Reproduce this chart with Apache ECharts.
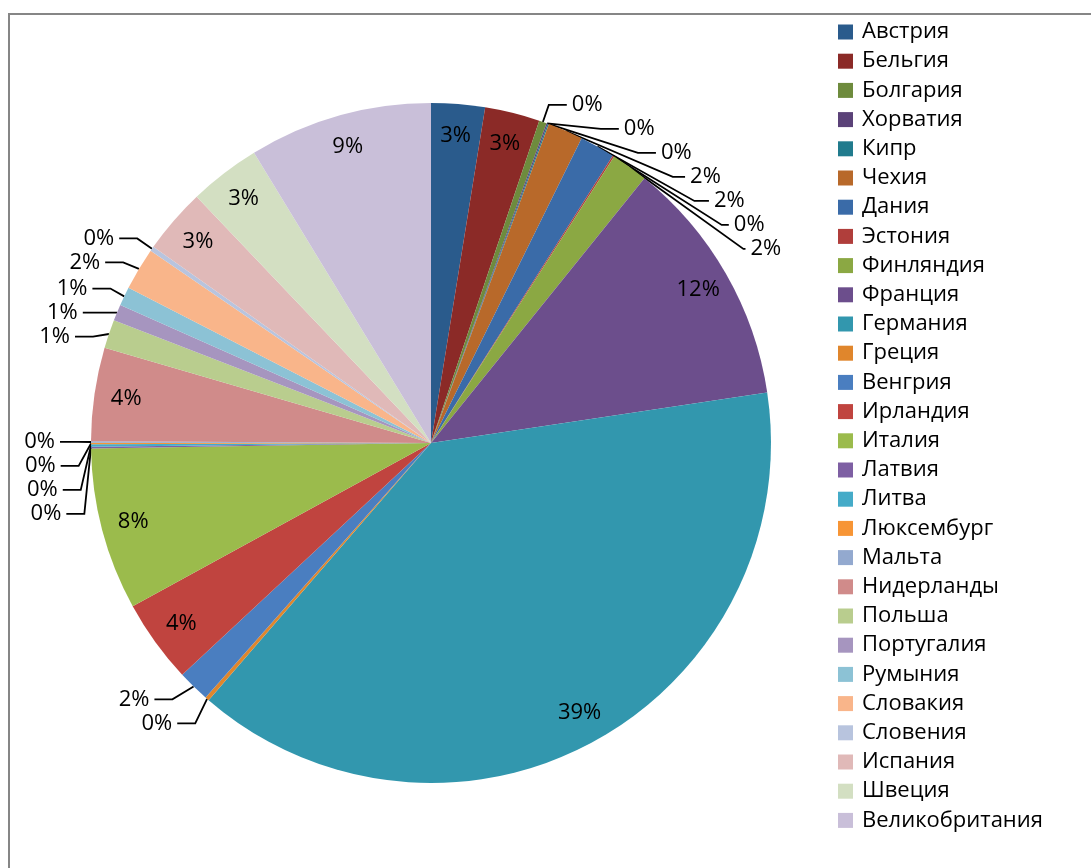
<!DOCTYPE html>
<html>
<head>
<meta charset="utf-8">
<script src="https://cdn.jsdelivr.net/npm/echarts@6/dist/echarts.min.js"></script>
<style>
html,body{margin:0;padding:0;background:#fff;}
#c{width:1091px;height:868px;}
</style>
</head>
<body>
<div id="c"></div>
<script>
const categories = ["Австрия","Бельгия","Болгария","Хорватия","Кипр","Чехия","Дания","Эстония","Финляндия","Франция","Германия","Греция","Венгрия","Ирландия","Италия","Латвия","Литва","Люксембург","Мальта","Нидерланды","Польша","Португалия","Румыния","Словакия","Словения","Испания","Швеция","Великобритания"];
const shares = [2.55,2.61,0.36,0.06,0.06,1.67,1.67,0.08,1.75,11.83,38.75,0.19,1.53,3.97,7.72,0.08,0.11,0.08,0.06,4.44,1.36,0.78,0.89,2.03,0.22,3.11,3.39,8.72];
const colors = ["#2A5B8C","#8B2A27","#6E8B3D","#5B4278","#217B8D","#B8692A","#3A6BA8","#B03E3B","#8BA843","#6C4E8C","#3297AE","#E0862C","#4A7EC0","#C0443F","#9BBB4C","#7E5FA3","#45ABC8","#F79535","#93A9CF","#D08B8A","#B9CD8E","#A695BF","#8CC2D5","#F9B58A","#B8C4DE","#E0B9B8","#D3DFC2","#C9BFD9"];

const FONT = "'Open Sans', 'Noto Sans', sans-serif";
const insideThreshold = 2.5;
const total = shares.reduce((a,b)=>a+b,0);
const pct = v => Math.round(v/total*100) + '%';

const mainData = categories.map((n,i)=>({
  name:n, value:shares[i],
  itemStyle:{color:colors[i]},
  label:{show: shares[i] < insideThreshold},
  labelLine:{show: shares[i] < insideThreshold}
}));
const overlayData = categories.map((n,i)=>({
  name:n, value:shares[i],
  itemStyle:{color:'rgba(0,0,0,0)'},
  label:{show: shares[i] >= insideThreshold}
}));

const chart = echarts.init(document.getElementById('c'), null, {renderer:'canvas'});
chart.setOption({
  animation:false,
  color: colors,
  graphic:[{type:'rect', shape:{x:9, y:14, width:1200, height:1000}, style:{fill:'none', stroke:'#868686', lineWidth:2}, silent:true}],
  legend:{
    orient:'vertical', left:833, top:16, height:860,
    itemWidth:15, itemHeight:15, itemGap:7.2,
    icon:'rect',
    data: categories,
    textStyle:{fontFamily:FONT, fontSize:22, color:'#000', padding:[0,0,0,4]},
    selectedMode:false
  },
  series:[
    {
      type:'pie', center:[431,443], radius:[0,340], startAngle:90, clockwise:true,
      silent:true, avoidLabelOverlap:true,
      data: mainData,
      label:{position:'outside', formatter:p=>pct(p.value), fontFamily:FONT, fontSize:22, color:'#000'},
      labelLine:{length:18, length2:18, lineStyle:{color:'#000', width:1.8}},
      itemStyle:{borderWidth:0}
    },
    {
      type:'pie', center:[431,443], radius:[270,340], startAngle:90, clockwise:true,
      silent:true, legendHoverLink:false,
      data: overlayData,
      label:{position:'inside', formatter:p=>pct(p.value), fontFamily:FONT, fontSize:22, color:'#000'},
      labelLine:{show:false},
      itemStyle:{borderWidth:0}
    }
  ]
});
</script>
</body>
</html>
